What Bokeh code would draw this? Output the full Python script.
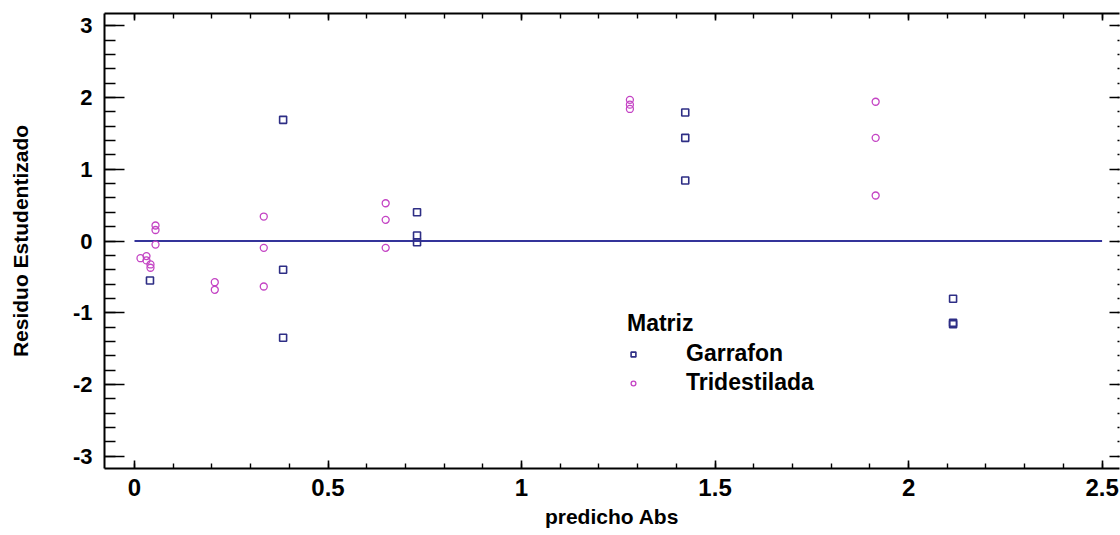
import numpy as np
from bokeh.plotting import figure
from bokeh.models import LinearAxis, FixedTicker, Range1d
from bokeh.embed import file_html
from bokeh.resources import INLINE

# ---- data ----
garrafon_x = [0.040, 0.384, 0.384, 0.384, 0.730, 0.730, 0.730,
              1.423, 1.423, 1.423, 2.115, 2.115, 2.115]
garrafon_y = [-0.55, 1.688, -0.40, -1.348, 0.401, 0.077, -0.017,
              1.79, 1.437, 0.843, -0.805, -1.14, -1.16]

tri_x = [0.0543, 0.0543, 0.0543, 0.0155, 0.031, 0.031, 0.0413, 0.0413,
         0.2075, 0.2075, 0.334, 0.334, 0.334, 0.649, 0.649, 0.649,
         1.28, 1.28, 1.28, 1.915, 1.915, 1.915]
tri_y = [0.216, 0.153, -0.05, -0.24, -0.21, -0.27, -0.327, -0.373,
         -0.574, -0.68, 0.341, -0.095, -0.634, 0.526, 0.295, -0.095,
         1.967, 1.90, 1.84, 1.94, 1.437, 0.634]

zero_x = [0.0, 2.5]
zero_y = [0.0, 0.0]

x_ticks = [0, 0.5, 1, 1.5, 2, 2.5]
x_tick_labels = ["0", "0.5", "1", "1.5", "2", "2.5"]
y_ticks = [-3, -2, -1, 0, 1, 2, 3]
y_tick_labels = ["-3", "-2", "-1", "0", "1", "2", "3"]

NAVY = "#2e2e85"
LINE = "#34349a"
MAGENTA = "#c444c4"
FONT = "Liberation Sans"

p = figure(width=1120, height=535, output_backend="svg", toolbar_location=None,
           x_range=Range1d(-0.0775, 2.545), y_range=Range1d(-3.17, 3.17),
           x_axis_location=None, y_axis_location=None,
           min_border_left=104, min_border_right=1, min_border_top=13,
           min_border_bottom=67)
p.outline_line_color = None
p.xgrid.visible = False
p.ygrid.visible = False
p.background_fill_color = "white"
p.border_fill_color = "white"

x_minor = [round(v, 2) for v in np.arange(0, 2.5001, 0.1)]
y_minor = [round(v, 2) for v in np.arange(-3, 3.0001, 0.2)]

def xt():
    return FixedTicker(ticks=x_ticks, minor_ticks=x_minor)

def yt():
    return FixedTicker(ticks=y_ticks, minor_ticks=y_minor)

def style(ax, tick_in, minor_in):
    ax.major_tick_in = tick_in
    ax.major_tick_out = 0
    ax.minor_tick_in = minor_in
    ax.minor_tick_out = 0
    ax.axis_line_width = 2
    ax.axis_line_color = "black"
    ax.major_tick_line_width = 1.6
    ax.minor_tick_line_width = 1.4
    ax.major_tick_line_color = "black"
    ax.minor_tick_line_color = "black"
    ax.major_label_text_font = FONT
    ax.major_label_text_font_style = "bold"
    ax.major_label_text_color = "black"
    ax.axis_label_text_font = FONT
    ax.axis_label_text_font_style = "bold"
    ax.axis_label_text_color = "black"

bottom = LinearAxis(ticker=xt(), axis_label="predicho Abs")
style(bottom, 8, 5)
bottom.major_label_overrides = {v: s for v, s in zip(x_ticks, x_tick_labels)}
bottom.major_label_text_font_size = "24px"
bottom.major_label_standoff = 10
bottom.axis_label_text_font_size = "21px"
bottom.axis_label_standoff = 6
p.add_layout(bottom, "below")

left = LinearAxis(ticker=yt(), axis_label="Residuo Estudentizado")
style(left, 20, 11)
left.major_label_overrides = {v: s for v, s in zip(y_ticks, y_tick_labels)}
left.major_label_text_font_size = "22px"
left.major_label_standoff = 12
left.axis_label_text_font_size = "21px"
left.axis_label_standoff = 38
p.add_layout(left, "left")

top = LinearAxis(ticker=xt())
style(top, 7, 5)
top.major_label_text_color = None
top.major_label_text_font_size = "1px"
top.major_label_standoff = 0
p.add_layout(top, "above")

right = LinearAxis(ticker=yt())
style(right, 10, 2)
right.axis_line_color = None
right.major_label_text_color = None
right.major_label_text_font_size = "1px"
right.major_label_standoff = 0
p.add_layout(right, "right")

p.line(zero_x, zero_y, line_color=LINE, line_width=1.8)

p.scatter(garrafon_x, garrafon_y, marker="square", size=7, fill_color=None,
          line_color=NAVY, line_width=1.6, legend_label="Garrafon")
p.scatter(tri_x, tri_y, marker="circle", size=7, fill_color=None,
          line_color=MAGENTA, line_width=1.3, legend_label="Tridestilada")

lg = p.legend[0]
lg.location = (523, 72)
lg.title = "Matriz"
lg.title_text_font = FONT
lg.title_text_font_style = "bold"
lg.title_text_font_size = "23px"
lg.title_text_color = "black"
lg.title_standoff = 3
lg.label_text_font = FONT
lg.label_text_font_style = "bold"
lg.label_text_font_size = "23px"
lg.label_text_color = "black"
lg.glyph_width = 12
lg.glyph_height = 12
lg.label_height = 24
lg.label_standoff = 47
lg.spacing = 2
lg.padding = 0
lg.margin = 0
lg.border_line_color = None
lg.background_fill_alpha = 0

open("out.html", "w").write(file_html(p, INLINE))
